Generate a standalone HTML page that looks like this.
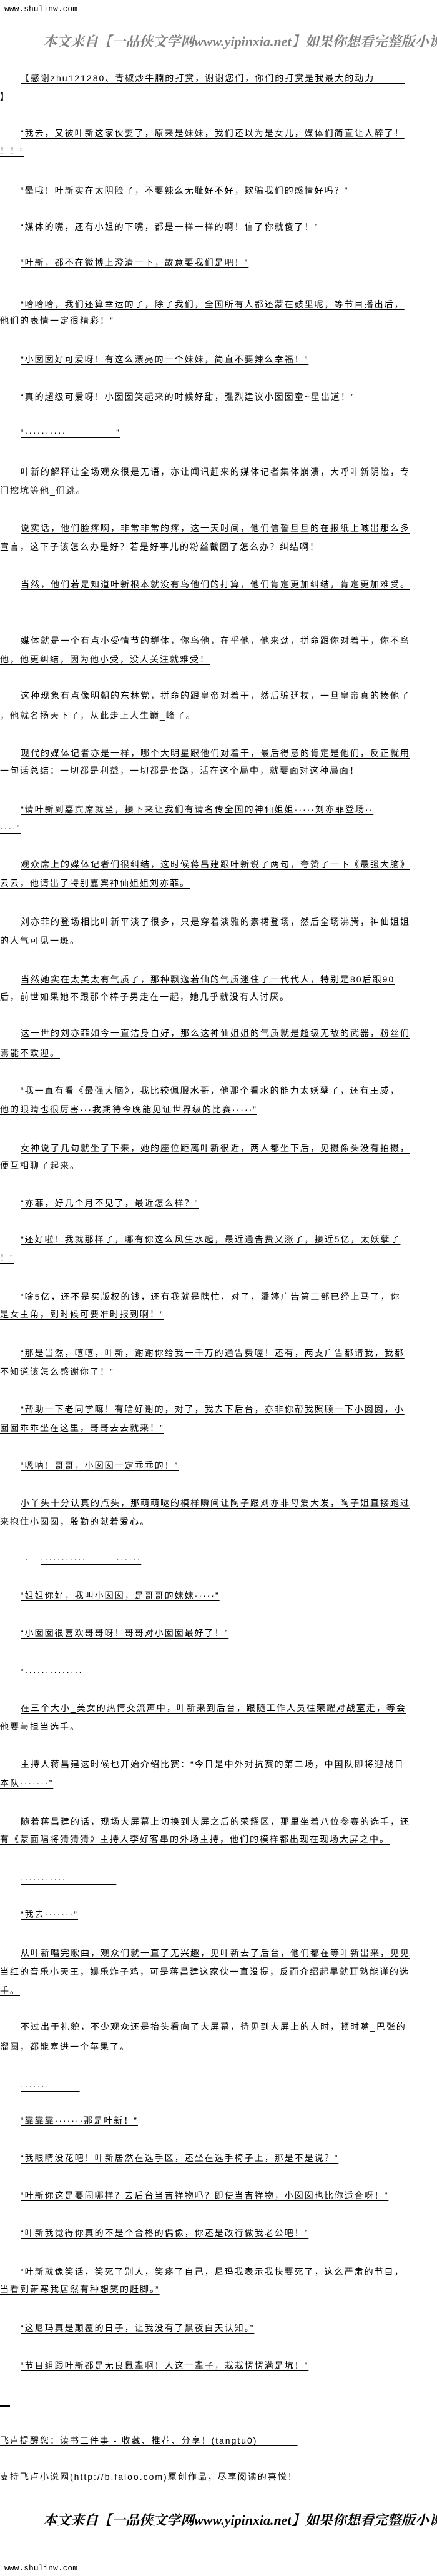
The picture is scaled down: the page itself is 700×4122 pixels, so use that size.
<!DOCTYPE html>
<html><head><meta charset="utf-8">
<style>
html,body{margin:0;padding:0;background:#fff;}
body{width:700px;height:4122px;position:relative;overflow:hidden;color:#000;
font-family:"Liberation Sans","Noto Sans CJK SC","WenQuanYi Zen Hei",sans-serif;}
.l{position:absolute;left:0;white-space:nowrap;font-size:14px;letter-spacing:2px;line-height:20px;height:20px;text-decoration:underline;text-underline-offset:3px;}
.i{left:33px;}
.n{text-decoration:none;}
.site{position:absolute;left:7px;font-family:"Liberation Mono",monospace;font-size:13px;line-height:16px;}
.wm{position:absolute;left:69px;white-space:nowrap;font-family:"Liberation Serif","Noto Serif CJK SC",serif;font-size:22px;font-style:italic;font-weight:bold;line-height:26px;}
</style></head><body>
<div class="site" style="top:7px">www.shulinw.com</div>
<div class="wm" style="top:54px;color:#808080">本文来自【一品侠文学网www.yipinxia.net】如果你想看完整版小说，请</div>

<div class="l i" style="top:115px">【感谢zhu121280、青椒炒牛腩的打赏，谢谢您们，你们的打赏是我最大的动力　　　</div>
<div class="l n" style="top:145px;font-weight:bold">】</div>
<div class="l i" style="top:203px">“我去，又被叶新这家伙耍了，原来是妹妹，我们还以为是女儿，媒体们简直让人醉了！</div>
<div class="l" style="top:232px">！！”</div>
<div class="l i" style="top:295px">“晕哦！叶新实在太阴险了，不要辣么无耻好不好，欺骗我们的感情好吗？”</div>
<div class="l i" style="top:353px">“媒体的嘴，还有小姐的下嘴，都是一样一样的啊！信了你就傻了！”</div>
<div class="l i" style="top:410px">“叶新，都不在微博上澄清一下，故意耍我们是吧！”</div>
<div class="l i" style="top:477px">“哈哈哈，我们还算幸运的了，除了我们，全国所有人都还蒙在鼓里呢，等节目播出后，</div>
<div class="l" style="top:503px">他们的表情一定很精彩！”</div>
<div class="l i" style="top:565px">“小囡囡好可爱呀！有这么漂亮的一个妹妹，简直不要辣么幸福！”</div>
<div class="l i" style="top:625px">“真的超级可爱呀！小囡囡笑起来的时候好甜，强烈建议小囡囡童~星出道！”</div>
<div class="l i" style="top:682px">“··········　　　　　”</div>
<div class="l i" style="top:745px">叶新的解释让全场观众很是无语，亦让闻讯赶来的媒体记者集体崩溃，大呼叶新阴险，专</div>
<div class="l" style="top:775px">门挖坑等他_们跳。</div>
<div class="l i" style="top:835px">说实话，他们脸疼啊，非常非常的疼，这一天时间，他们信誓旦旦的在报纸上喊出那么多</div>
<div class="l" style="top:865px">宣言，这下子该怎么办是好？若是好事儿的粉丝截图了怎么办？纠结啊！</div>
<div class="l i" style="top:925px">当然，他们若是知道叶新根本就没有鸟他们的打算，他们肯定更加纠结，肯定更加难受。</div>
<div class="l i" style="top:1015px">媒体就是一个有点小受情节的群体，你鸟他，在乎他，他来劲，拼命跟你对着干，你不鸟</div>
<div class="l" style="top:1045px">他，他更纠结，因为他小受，没人关注就难受！</div>
<div class="l i" style="top:1103px">这种现象有点像明朝的东林党，拼命的跟皇帝对着干，然后骗廷杖，一旦皇帝真的揍他了</div>
<div class="l" style="top:1135px">，他就名扬天下了，从此走上人生巅_峰了。</div>
<div class="l i" style="top:1195px">现代的媒体记者亦是一样，哪个大明星跟他们对着干，最后得意的肯定是他们，反正就用</div>
<div class="l" style="top:1223px">一句话总结：一切都是利益，一切都是套路，活在这个局中，就要面对这种局面！</div>
<div class="l i" style="top:1285px">“请叶新到嘉宾席就坐，接下来让我们有请名传全国的神仙姐姐·····刘亦菲登场··</div>
<div class="l" style="top:1315px">····”</div>
<div class="l i" style="top:1373px">观众席上的媒体记者们很纠结，这时候蒋昌建跟叶新说了两句，夸赞了一下《最强大脑》</div>
<div class="l" style="top:1403px">云云，他请出了特别嘉宾神仙姐姐刘亦菲。</div>
<div class="l i" style="top:1465px">刘亦菲的登场相比叶新平淡了很多，只是穿着淡雅的素裙登场，然后全场沸腾，神仙姐姐</div>
<div class="l" style="top:1495px">的人气可见一斑。</div>
<div class="l i" style="top:1557px">当然她实在太美太有气质了，那种飘逸若仙的气质迷住了一代代人，特别是80后跟90 </div>
<div class="l" style="top:1585px">后，前世如果她不跟那个棒子男走在一起，她几乎就没有人讨厌。</div>
<div class="l i" style="top:1643px">这一世的刘亦菲如今一直洁身自好，那么这神仙姐姐的气质就是超级无敌的武器，粉丝们</div>
<div class="l" style="top:1675px">焉能不欢迎。</div>
<div class="l i" style="top:1735px">“我一直有看《最强大脑》，我比较佩服水哥，他那个看水的能力太妖孽了，还有王威，</div>
<div class="l" style="top:1765px">他的眼睛也很厉害···我期待今晚能见证世界级的比赛·····”</div>
<div class="l i" style="top:1827px">女神说了几句就坐了下来，她的座位距离叶新很近，两人都坐下后，见摄像头没有拍摄，</div>
<div class="l" style="top:1855px">便互相聊了起来。</div>
<div class="l i" style="top:1915px">“亦菲，好几个月不见了，最近怎么样？”</div>
<div class="l i" style="top:1973px">“还好啦！我就那样了，哪有你这么风生水起，最近通告费又涨了，接近5亿，太妖孽了</div>
<div class="l" style="top:2003px">！”</div>
<div class="l i" style="top:2065px">“啥5亿，还不是买版权的钱，还有我就是瞎忙，对了，潘婷广告第二部已经上马了，你</div>
<div class="l" style="top:2093px">是女主角，到时候可要准时报到啊！”</div>
<div class="l i" style="top:2155px">“那是当然，嘻嘻，叶新，谢谢你给我一千万的通告费喔！还有，两支广告都请我，我都</div>
<div class="l" style="top:2185px">不知道该怎么感谢你了！”</div>
<div class="l i" style="top:2245px">“帮助一下老同学嘛！有啥好谢的，对了，我去下后台，亦非你帮我照顾一下小囡囡，小</div>
<div class="l" style="top:2275px">囡囡乖乖坐在这里，哥哥去去就来！”</div>
<div class="l i" style="top:2335px">“嗯呐！哥哥，小囡囡一定乖乖的！”</div>
<div class="l i" style="top:2395px">小丫头十分认真的点头，那萌萌哒的模样瞬间让陶子跟刘亦非母爱大发，陶子姐直接跑过</div>
<div class="l" style="top:2425px">来抱住小囡囡，殷勤的献着爱心。</div>
<div class="l n" style="top:2485px;left:40px">·</div>
<div class="l" style="top:2485px;left:65px">···········　　　······</div>
<div class="l i" style="top:2543px">“姐姐你好，我叫小囡囡，是哥哥的妹妹·····”</div>
<div class="l i" style="top:2603px">“小囡囡很喜欢哥哥呀！哥哥对小囡囡最好了！”</div>
<div class="l i" style="top:2665px">“··············</div>
<div class="l i" style="top:2723px">在三个大小_美女的热情交流声中，叶新来到后台，跟随工作人员往荣耀对战室走，等会</div>
<div class="l" style="top:2753px">他要与担当选手。</div>
<div class="l i n" style="top:2813px">主持人蒋昌建这时候也开始介绍比赛：“今日是中外对抗赛的第二场，中国队即将迎战日</div>
<div class="l" style="top:2843px">本队·······”</div>
<div class="l i" style="top:2905px">随着蒋昌建的话，现场大屏幕上切换到大屏之后的荣耀区，那里坐着八位参赛的选手，还</div>
<div class="l" style="top:2933px">有《蒙面唱将猜猜猜》主持人李好客串的外场主持，他们的模样都出现在现场大屏之中。</div>
<div class="l i" style="top:2997px">···········　　　　　</div>
<div class="l i" style="top:3053px">“我去·······”</div>
<div class="l i" style="top:3115px">从叶新唱完歌曲，观众们就一直了无兴趣，见叶新去了后台，他们都在等叶新出来，见见</div>
<div class="l" style="top:3145px">当红的音乐小天王，娱乐炸子鸡，可是蒋昌建这家伙一直没提，反而介绍起早就耳熟能详的选</div>
<div class="l" style="top:3175px">手。</div>
<div class="l i" style="top:3233px">不过出于礼貌，不少观众还是抬头看向了大屏幕，待见到大屏上的人时，顿时嘴_巴张的</div>
<div class="l" style="top:3265px">溜圆，都能塞进一个苹果了。</div>
<div class="l i" style="top:3328px">·······　　　</div>
<div class="l i" style="top:3383px">“靠靠靠·······那是叶新！”</div>
<div class="l i" style="top:3443px">“我眼睛没花吧！叶新居然在选手区，还坐在选手椅子上，那是不是说？”</div>
<div class="l i" style="top:3503px">“叶新你这是要闹哪样？去后台当吉祥物吗？即使当吉祥物，小囡囡也比你适合呀！”</div>
<div class="l i" style="top:3563px">“叶新我觉得你真的不是个合格的偶像，你还是改行做我老公吧！”</div>
<div class="l i" style="top:3625px">“叶新就像笑话，笑死了别人，笑疼了自己，尼玛我表示我快要死了，这么严肃的节目，</div>
<div class="l" style="top:3653px">当看到萧寒我居然有种想笑的赶脚。”</div>
<div class="l i" style="top:3715px">“这尼玛真是颠覆的日子，让我没有了黑夜白天认知。”</div>
<div class="l i" style="top:3775px">“节目组跟叶新都是无良鼠辈啊！人这一辈子，栽栽愣愣满是坑！”</div>
<div style="position:absolute;left:0;top:3849px;width:16px;height:2px;background:#000"></div>
<div class="l" style="top:3895px">飞卢提醒您：读书三件事 - 收藏、推荐、分享！(tangtu0)　　　　</div>
<div class="l" style="top:3953px">支持飞卢小说网(http://b.faloo.com)原创作品，尽享阅读的喜悦！　　　　　　　</div>

<div class="wm" style="top:4020px;color:#000">本文来自【一品侠文学网www.yipinxia.net】如果你想看完整版小说，请</div>
<div class="site" style="top:4102px">www.shulinw.com</div>
</body></html>
